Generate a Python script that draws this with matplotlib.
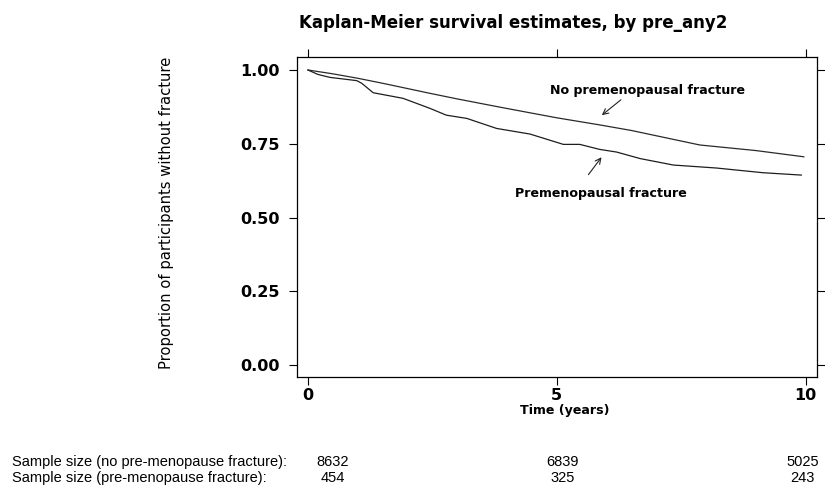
import matplotlib
matplotlib.use('Agg')
import numpy as np
import matplotlib.pyplot as plt
import matplotlib.transforms as mtransforms

# Kaplan-Meier curves (time in years, survival)
t_no = [0, 0.5, 1.0, 1.5, 2.45, 3.0, 3.86, 4.46, 5.0, 5.86, 6.5, 7.87, 9.0, 9.96]
s_no = [1.0, 0.987, 0.972, 0.955, 0.921, 0.902, 0.874, 0.855, 0.838, 0.814, 0.795, 0.746, 0.727, 0.706]

t_pre = [0, 0.2, 0.44, 0.98, 1.08, 1.31, 1.91, 2.45, 2.78, 3.19, 3.79, 4.46, 5.13, 5.46,
         5.86, 6.2, 6.67, 7.34, 8.2, 9.14, 9.91]
s_pre = [1.0, 0.985, 0.975, 0.964, 0.955, 0.923, 0.904, 0.870, 0.847, 0.836, 0.802, 0.783,
         0.748, 0.748, 0.731, 0.722, 0.700, 0.678, 0.668, 0.652, 0.644]

xticks = [0, 5, 10]
yticks = [0.0, 0.25, 0.50, 0.75, 1.00]
ytick_labels = ['0.00', '0.25', '0.50', '0.75', '1.00']

# numbers at risk (printed under the times)
n_no = [8632, 6839, 5025]
n_pre = [454, 325, 243]
n_xpos = [0.5, 5.12, 9.94]

fig = plt.figure(figsize=(8.25, 4.86), dpi=100)
ax = fig.add_axes([0.36, 0.2243, 0.63, 0.6584])

ax.plot(t_no, s_no, color='#2a2a2a', lw=0.9)
ax.plot(t_pre, s_pre, color='#1e1e1e', lw=0.9)

ax.set_xlim(-0.22, 10.22)
ax.set_ylim(-0.04, 1.044)
ax.set_xticks(xticks)
ax.set_xticklabels([str(v) for v in xticks], fontsize=11.5, fontweight='bold')
ax.set_yticks(yticks)
ax.set_yticklabels(ytick_labels, fontsize=11.5, fontweight='bold')
ax.tick_params(direction='out', length=6, width=0.8, top=True, right=True,
               labeltop=False, labelright=False)
ax.tick_params(axis='y', pad=6.5)
ax.tick_params(axis='x', pad=2)
for s in ax.spines.values():
    s.set_linewidth(0.9)

ax.set_xlabel('Time (years)', fontsize=9.1, fontweight='bold')
ax.xaxis.set_label_coords(0.515, -0.085)
fig.text(166 / 825, 0.563, 'Proportion of participants without fracture',
         fontsize=10.6, rotation=90, ha='center', va='center')
fig.text(0.622, 0.953, 'Kaplan-Meier survival estimates, by pre_any2',
         fontsize=12, fontweight='bold', ha='center', va='center')

# labels with arrows
ax.annotate('No premenopausal fracture', xy=(5.86, 0.841), xytext=(4.86, 0.929),
            fontsize=9.1, fontweight='bold', va='center', ha='left')
ax.annotate('', xy=(5.86, 0.841), xytext=(6.33, 0.905),
            arrowprops=dict(arrowstyle='->', lw=0.8, color='#222222'))
ax.annotate('Premenopausal fracture', xy=(5.93, 0.712), xytext=(4.16, 0.58),
            fontsize=9.05, fontweight='bold', va='center', ha='left')
ax.annotate('', xy=(5.93, 0.712), xytext=(5.6, 0.638),
            arrowprops=dict(arrowstyle='->', lw=0.8, color='#222222'))

# sample size table
y1 = 1 - 462 / 486
y2 = 1 - 478 / 486
fig.text(12 / 825, y1, 'Sample size (no pre-menopause fracture):',
         fontsize=10.5, family='Liberation Sans', va='center')
fig.text(12 / 825, y2, 'Sample size (pre-menopause fracture):',
         fontsize=10.5, family='Liberation Sans', va='center')
trans = mtransforms.blended_transform_factory(ax.transData, fig.transFigure)
for xp, a, b in zip(n_xpos, n_no, n_pre):
    ax.text(xp, y1, str(a), transform=trans, fontsize=10.5, family='Liberation Sans',
            ha='center', va='center', clip_on=False)
    ax.text(xp, y2, str(b), transform=trans, fontsize=10.5, family='Liberation Sans',
            ha='center', va='center', clip_on=False)

fig.savefig('out.png', dpi=100)
